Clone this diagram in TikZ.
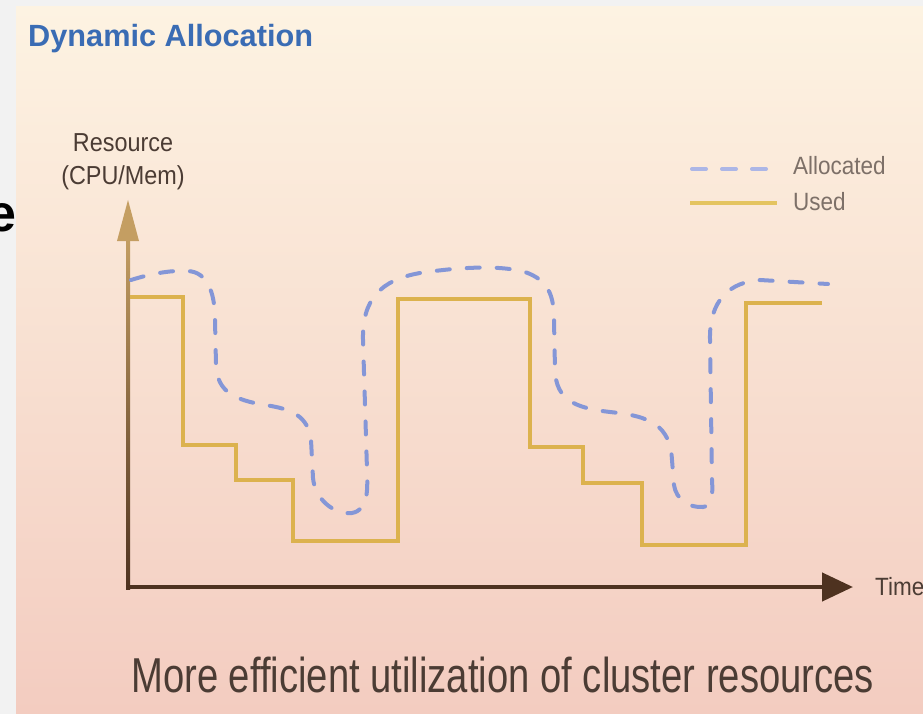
\documentclass[tikz,border=0pt]{standalone}
\usepackage{fontspec}
\setmainfont{Liberation Sans}
\newfontfamily\narrowsans{Liberation Sans}[FakeStretch=0.9]
\newfontfamily\condsans{Liberation Sans}[FakeStretch=0.78]
\usetikzlibrary{arrows.meta}

\definecolor{pagegray}{RGB}{242,242,242}
\definecolor{bgtop}{RGB}{253,243,226}
\definecolor{bgmid}{RGB}{250,228,206}
\definecolor{bgbot}{RGB}{243,204,192}
\definecolor{titleblue}{RGB}{58,108,180}
\definecolor{inkbrown}{RGB}{75,60,52}
\definecolor{legendgray}{RGB}{125,112,104}
\definecolor{axisbrown}{RGB}{78,50,32}
\definecolor{axistan}{RGB}{196,158,98}
\definecolor{usedgold}{RGB}{220,178,78}
\definecolor{allocblue}{RGB}{132,150,215}
\definecolor{legendblue}{RGB}{172,182,230}
\definecolor{legendgold}{RGB}{228,196,96}

\tikzset{
  usedline/.style={draw=usedgold, line width=4pt, line join=miter},
  allocline/.style={draw=allocblue, line width=4pt, line cap=round, dash pattern=on 13pt off 17pt},
  axislabel/.style={inner sep=0pt, text=inkbrown, font=\narrowsans\fontsize{26}{26}\selectfont},
  legendlabel/.style={inner sep=0pt, anchor=base west, text=legendgray, font=\narrowsans\fontsize{25}{25}\selectfont},
}

\begin{document}
\begin{tikzpicture}[x=1pt, y=-1pt]
  \useasboundingbox (0,0) rectangle (923,714);
  \fill[pagegray] (0,0) rectangle (923,714);

  % cut-off letter from the neighbouring slide
  \node[inner sep=0pt, anchor=base east, font=\bfseries\fontsize{52}{52}\selectfont] (edgeletter) at (17,231) {e};

  % panel background
  \shade[top color=bgtop, middle color=bgmid, bottom color=bgbot] (16,7) rectangle (923,714);

  % title
  \node[inner sep=0pt, anchor=base west, text=titleblue,
        font=\bfseries\fontsize{30.7}{30.7}\selectfont] (title) at (28,47) {Dynamic Allocation};

  % axes
  \coordinate (origin) at (128,587);
  \coordinate (ytip) at (128,200);
  \coordinate (xtip) at (853,587);
  \shade[top color=axistan, bottom color=axisbrown] (126,236) rectangle (130,589);
  \fill[axistan] (ytip) -- (117,241) -- (139,241) -- cycle;
  \draw[axisbrown, line width=4.5pt, -{Triangle[length=31pt, width=28pt]}] (126,587) -- (xtip);

  \node[axislabel, anchor=base] (reslabel) at (123,152) {Resource};
  \node[axislabel, anchor=base] (unitlabel) at (123,185) {(CPU/Mem)};
  \node[axislabel, anchor=base west, font=\narrowsans\fontsize{25}{25}\selectfont] (timelabel) at (875,595) {Time};

  % legend
  \coordinate (la1) at (692,169); \coordinate (la2) at (777,169);
  \coordinate (lu1) at (690,203); \coordinate (lu2) at (777,203);
  \draw[draw=legendblue, line width=4pt, line cap=round, dash pattern=on 14pt off 16pt] (la1) -- (la2);
  \draw[draw=legendgold, line width=4pt] (lu1) -- (lu2);
  \node[legendlabel] (alloctext) at (793,175) {Allocated};
  \node[legendlabel] (usedtext) at (793,211) {Used};

  % used resources (step curve)
  \draw[usedline] (130,297) -- (183,297) -- (183,445) -- (236,445) -- (236,480)
    -- (293,480) -- (293,541) -- (398,541) -- (398,299) -- (530,299)
    -- (530,447) -- (583,447) -- (583,483) -- (642,483) -- (642,545)
    -- (746,545) -- (746,303) -- (822,303);

  % allocated resources (smooth dashed curve)
  \draw[allocline] (131,280)
    .. controls (150,274) and (170,270) .. (188,271)
    .. controls (206,272) and (215,290) .. (215,320)
    -- (216,365)
    .. controls (217,392) and (235,400) .. (265,405)
    .. controls (292,409) and (308,416) .. (311,440)
    -- (313,478)
    .. controls (315,500) and (335,515) .. (352,513)
    .. controls (367,510) and (368,495) .. (367,470)
    -- (363,340)
    .. controls (362,300) and (380,280) .. (420,273)
    .. controls (460,267) and (500,265) .. (525,272)
    .. controls (548,280) and (554,295) .. (554,320)
    -- (555,370)
    .. controls (556,400) and (575,408) .. (610,412)
    .. controls (650,416) and (670,425) .. (672,460)
    -- (674,485)
    .. controls (676,500) and (690,508) .. (703,507)
    .. controls (712,506) and (713,495) .. (712,480)
    -- (710,340)
    .. controls (709,300) and (730,282) .. (760,280)
    -- (828,284);

  % caption
  \node[inner sep=0pt, anchor=base west, text=inkbrown,
        font=\condsans\fontsize{49}{49}\selectfont] (caption) at (131,692)
        {More efficient utilization of cluster resources};
\end{tikzpicture}
\end{document}
